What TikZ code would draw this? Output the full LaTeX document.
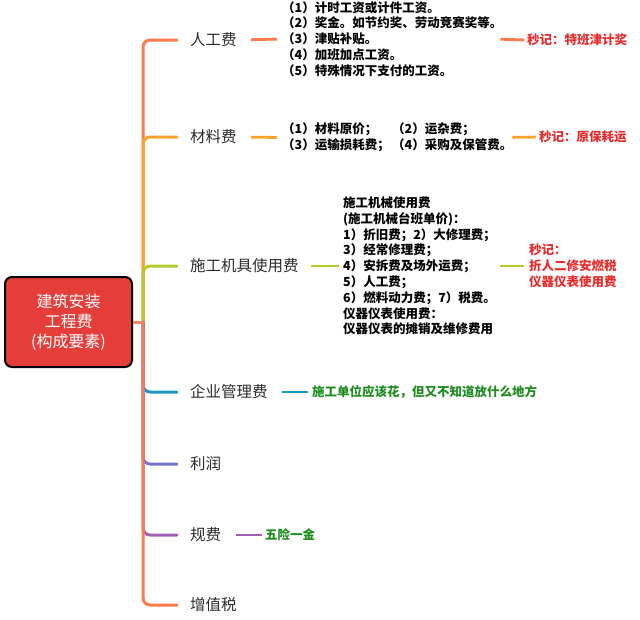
\documentclass[tikz,border=0pt]{standalone}
\usepackage{fontspec}
\setmainfont{Noto Sans CJK SC}
\definecolor{cCoral}{HTML}{FF7A4A}
\definecolor{cOrange}{HTML}{FFA22E}
\definecolor{cGreen}{HTML}{B4CB2A}
\definecolor{cBlue}{HTML}{1C98C0}
\definecolor{cPeri}{HTML}{7474CC}
\definecolor{cPurple}{HTML}{A25DB5}
\definecolor{cRoot}{HTML}{E53E3A}
\definecolor{cRootLink}{HTML}{F4845F}
\definecolor{cRed}{HTML}{EC2A2A}
\definecolor{cNoteGreen}{HTML}{1E8C1E}
\definecolor{cLabel}{HTML}{2B2B2B}
\begin{document}
\begin{tikzpicture}[x=1pt,y=-1pt,
  rootbox/.style={draw=black,line width=2pt,fill=cRoot,rounded corners=7pt,
    minimum width=127pt,minimum height=90pt,text=white,align=center,
    font=\fontsize{16}{20}\selectfont,inner sep=0pt},
  branchlabel/.style={anchor=west,inner sep=0pt,text=cLabel,font=\fontsize{15.5}{18}\selectfont},
  childtext/.style={anchor=west,inner sep=0pt,align=left,font=\bfseries\fontsize{12.5}{15.8}\selectfont,text=black},
  rednote/.style={anchor=west,inner sep=0pt,align=left,font=\bfseries\fontsize{12.5}{15.8}\selectfont,text=cRed},
  greennote/.style={anchor=west,inner sep=0pt,align=left,font=\bfseries\fontsize{12.5}{15.8}\selectfont,text=cNoteGreen},
  branchline/.style={line width=3pt,rounded corners=7pt,line cap=round},
  leafline/.style={line width=2.8pt},
]
\useasboundingbox (0,0) rectangle (640,619);

% root
\node[rootbox] (root) at (68.5,322) {建筑安装\\工程费\\(构成要素)};
\coordinate (t) at (143,322);

% branch labels
\node[branchlabel] (b1) at (190,40) {人工费};
\node[branchlabel] (b2) at (190,137) {材料费};
\node[branchlabel] (b3) at (190,266) {施工机具使用费};
\node[branchlabel] (b4) at (190,392) {企业管理费};
\node[branchlabel] (b5) at (190,464) {利润};
\node[branchlabel] (b6) at (190,535) {规费};
\node[branchlabel] (b7) at (190,605) {增值税};

% branch connectors (upper)
\draw[branchline,cCoral,shorten >=13pt] (t) |- (b1.west);
\draw[branchline,cOrange,shorten >=13pt] (t) |- (b2.west);
\draw[branchline,cGreen,shorten >=13pt] (t) |- (b3.west);
% branch connectors (lower)
\draw[branchline,cBlue,shorten >=13pt] (t) |- (b4.west);
\draw[branchline,cPeri,shorten >=13pt] (t) |- (b5.west);
\draw[branchline,cPurple,shorten >=13pt] (t) |- (b6.west);
\draw[branchline,cCoral,shorten >=13pt] (t) |- (b7.west);
\draw[line width=3pt,cRootLink] (root.east) -- (t);

% children
\node[childtext,text width=210pt] (c1) at (282,39)
  {（1）计时工资或计件工资。\\（2）奖金。如节约奖、劳动竞赛奖等。\\（3）津贴补贴。\\（4）加班加点工资。\\（5）特殊情况下支付的工资。};
\node[childtext,text width=222pt] (c2) at (282,137.5)
  {\makebox[110pt][l]{（1）材料原价；}（2）运杂费；\\\makebox[110pt][l]{（3）运输损耗费；}（4）采购及保管费。};
\node[childtext,text width=150pt] (c3) at (343,266)
  {施工机械使用费\\(施工机械台班单价)：\\1）折旧费；2）大修理费；\\3）经常修理费；\\4）安拆费及场外运费；\\5）人工费；\\6）燃料动力费；7）税费。\\仪器仪表使用费：\\仪器仪表的摊销及维修费用};
\node[greennote] (c4) at (312,392) {施工单位应该花，但又不知道放什么地方};
\node[greennote] (c6) at (265,535) {五险一金};

% notes
\node[rednote] (n1) at (527,40) {秒记：特班津计奖};
\node[rednote] (n2) at (539,137) {秒记：原保耗运};
\node[rednote] (n3) at (529,266) {秒记：\\折人二修安燃税\\仪器仪表使用费};

% leaf connectors
\draw[leafline,cCoral,shorten <=14pt,shorten >=5pt] (b1.east) -- (c1.west);
\draw[leafline,cOrange,shorten <=14pt,shorten >=5pt] (b2.east) -- (c2.west);
\draw[leafline,cGreen,shorten <=12pt,shorten >=4pt] (b3.east) -- (c3.west);
\draw[leafline,cBlue,shorten <=14pt,shorten >=4pt] (b4.east) -- (c4.west);
\draw[leafline,cPurple,shorten <=15pt,shorten >=3pt] (b6.east) -- (c6.west);
\draw[leafline,cCoral,shorten <=8pt,shorten >=3pt] (c1.east) -- (n1.west);
\draw[leafline,cOrange,shorten <=8pt,shorten >=3pt] (c2.east) -- (n2.west);
\draw[leafline,cGreen,shorten <=7pt,shorten >=5pt] (c3.east) -- (n3.west);
\end{tikzpicture}
\end{document}
